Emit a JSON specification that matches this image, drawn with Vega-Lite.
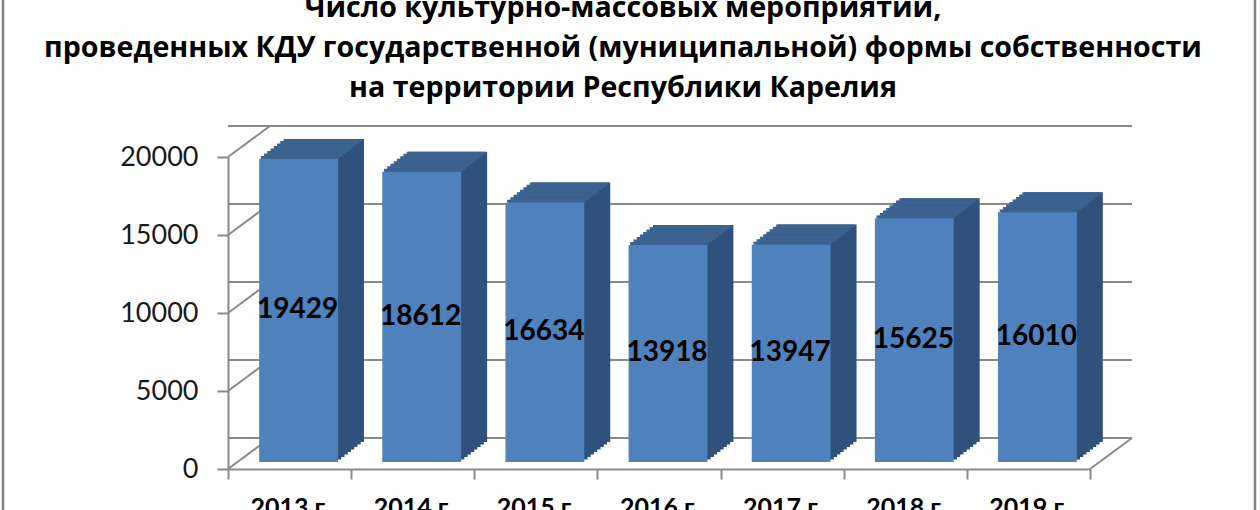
{
  "$schema": "https://vega.github.io/schema/vega-lite/v6.json",
  "width": 862,
  "height": 312,
  "autosize": {"type": "none"},
  "padding": {"left": 228, "top": 157, "right": 170, "bottom": 41},
  "background": "white",
  "config": {"view": {"stroke": null}, "font": "Lato"},
  "title": {
    "text": ["Число культурно-массовых мероприятий,", "проведенных КДУ государственной (муниципальной) формы собственности", "на территории Республики Карелия"],
    "font": "Open Sans",
    "fontSize": 28.6,
    "fontWeight": "bold",
    "color": "#000000",
    "lineHeight": 40,
    "anchor": "middle",
    "frame": "group",
    "baseline": "bottom",
    "offset": -146,
    "dx": -36
  },
  "datasets": {
    "bars": [
      {"year": "2013 г.", "value": 19429},
      {"year": "2014 г.", "value": 18612},
      {"year": "2015 г.", "value": 16634},
      {"year": "2016 г.", "value": 13918},
      {"year": "2017 г.", "value": 13947},
      {"year": "2018 г.", "value": 15625},
      {"year": "2019 г.", "value": 16010}
    ],
    "ticks": [{"v": 0}, {"v": 5000}, {"v": 10000}, {"v": 15000}, {"v": 20000}]
  },
  "resolve": {"scale": {"y": "independent"}},
  "layer": [
    {
      "layer": [
        {
          "data": {"name": "ticks"},
          "mark": {"type": "rule", "color": "#8a8a8a", "strokeWidth": 2, "xOffset": 42, "x2Offset": 42, "yOffset": -31},
          "encoding": {
            "y": {"field": "v", "type": "quantitative", "scale": {"domain": [0, 20000], "nice": false}}
          }
        },
        {
          "data": {"name": "ticks"},
          "mark": {"type": "rule", "color": "#8a8a8a", "strokeWidth": 2, "x2Offset": 42, "y2Offset": -31},
          "encoding": {
            "x": {"datum": "2013 г.", "bandPosition": 0, "type": "nominal"},
            "x2": {"datum": "2013 г.", "bandPosition": 0},
            "y": {"field": "v", "type": "quantitative"},
            "y2": {"field": "v"}
          }
        },
        {
          "data": {"name": "ticks"},
          "transform": [{"filter": "datum.v == 0"}],
          "mark": {"type": "rule", "color": "#8a8a8a", "strokeWidth": 2, "x2Offset": 42, "y2Offset": -31},
          "encoding": {
            "x": {"datum": "2019 г.", "bandPosition": 1, "type": "nominal"},
            "x2": {"datum": "2019 г.", "bandPosition": 1},
            "y": {"field": "v", "type": "quantitative"},
            "y2": {"field": "v"}
          }
        },
        {
          "data": {"name": "ticks"},
          "transform": [{"filter": "datum.v == 0"}],
          "mark": {"type": "rule", "color": "#7f7f7f", "strokeWidth": 2.5, "xOffset": -225, "yOffset": 60, "y2Offset": -170},
          "encoding": {
            "x": {"datum": "2013 г.", "bandPosition": 0, "type": "nominal"},
            "y": {"field": "v", "type": "quantitative"},
            "y2": {"datum": 20000}
          }
        },
        {
          "data": {"name": "ticks"},
          "transform": [{"filter": "datum.v == 0"}],
          "mark": {"type": "rule", "color": "#7f7f7f", "strokeWidth": 2.5, "xOffset": 165, "yOffset": 60, "y2Offset": -170},
          "encoding": {
            "x": {"datum": "2019 г.", "bandPosition": 1, "type": "nominal"},
            "y": {"field": "v", "type": "quantitative"},
            "y2": {"datum": 20000}
          }
        },
        {"data": {"name": "bars"}, "mark": {"type": "bar", "color": "#30517c", "width": {"band": 0.64}, "xOffset": 35, "x2Offset": 35, "yOffset": -27, "y2Offset": -27}, "encoding": {"x": {"field": "year", "type": "nominal"}, "y": {"field": "value", "type": "quantitative"}}},
        {"data": {"name": "bars"}, "mark": {"type": "bar", "color": "#30517c", "width": {"band": 0.64}, "xOffset": 31.75, "x2Offset": 31.75, "yOffset": -24.5, "y2Offset": -24.5}, "encoding": {"x": {"field": "year", "type": "nominal"}, "y": {"field": "value", "type": "quantitative"}}},
        {"data": {"name": "bars"}, "mark": {"type": "bar", "color": "#30517c", "width": {"band": 0.64}, "xOffset": 28.5, "x2Offset": 28.5, "yOffset": -22, "y2Offset": -22}, "encoding": {"x": {"field": "year", "type": "nominal"}, "y": {"field": "value", "type": "quantitative"}}},
        {"data": {"name": "bars"}, "mark": {"type": "bar", "color": "#30517c", "width": {"band": 0.64}, "xOffset": 25.25, "x2Offset": 25.25, "yOffset": -19.5, "y2Offset": -19.5}, "encoding": {"x": {"field": "year", "type": "nominal"}, "y": {"field": "value", "type": "quantitative"}}},
        {"data": {"name": "bars"}, "mark": {"type": "bar", "color": "#30517c", "width": {"band": 0.64}, "xOffset": 22, "x2Offset": 22, "yOffset": -17, "y2Offset": -17}, "encoding": {"x": {"field": "year", "type": "nominal"}, "y": {"field": "value", "type": "quantitative"}}},
        {"data": {"name": "bars"}, "mark": {"type": "bar", "color": "#30517c", "width": {"band": 0.64}, "xOffset": 18.75, "x2Offset": 18.75, "yOffset": -14.5, "y2Offset": -14.5}, "encoding": {"x": {"field": "year", "type": "nominal"}, "y": {"field": "value", "type": "quantitative"}}},
        {"data": {"name": "bars"}, "mark": {"type": "bar", "color": "#30517c", "width": {"band": 0.64}, "xOffset": 15.5, "x2Offset": 15.5, "yOffset": -12, "y2Offset": -12}, "encoding": {"x": {"field": "year", "type": "nominal"}, "y": {"field": "value", "type": "quantitative"}}},
        {"data": {"name": "bars"}, "mark": {"type": "bar", "color": "#30517c", "width": {"band": 0.64}, "xOffset": 12.25, "x2Offset": 12.25, "yOffset": -9.5, "y2Offset": -9.5}, "encoding": {"x": {"field": "year", "type": "nominal"}, "y": {"field": "value", "type": "quantitative"}}},
        {"data": {"name": "bars"}, "mark": {"type": "bar", "color": "#3c6290", "width": {"band": 0.64}, "xOffset": 10.6, "x2Offset": 10.6, "yOffset": -9.8, "y2Offset": -7}, "encoding": {"x": {"field": "year", "type": "nominal"}, "y": {"field": "value", "type": "quantitative"}, "y2": {"field": "value"}}},
        {"data": {"name": "bars"}, "mark": {"type": "bar", "color": "#3c6290", "width": {"band": 0.64}, "xOffset": 13.9, "x2Offset": 13.9, "yOffset": -12.3, "y2Offset": -9.5}, "encoding": {"x": {"field": "year", "type": "nominal"}, "y": {"field": "value", "type": "quantitative"}, "y2": {"field": "value"}}},
        {"data": {"name": "bars"}, "mark": {"type": "bar", "color": "#3c6290", "width": {"band": 0.64}, "xOffset": 17.1, "x2Offset": 17.1, "yOffset": -14.8, "y2Offset": -12}, "encoding": {"x": {"field": "year", "type": "nominal"}, "y": {"field": "value", "type": "quantitative"}, "y2": {"field": "value"}}},
        {"data": {"name": "bars"}, "mark": {"type": "bar", "color": "#3c6290", "width": {"band": 0.64}, "xOffset": 20.4, "x2Offset": 20.4, "yOffset": -17.3, "y2Offset": -14.5}, "encoding": {"x": {"field": "year", "type": "nominal"}, "y": {"field": "value", "type": "quantitative"}, "y2": {"field": "value"}}},
        {"data": {"name": "bars"}, "mark": {"type": "bar", "color": "#3c6290", "width": {"band": 0.64}, "xOffset": 23.6, "x2Offset": 23.6, "yOffset": -19.8, "y2Offset": -17}, "encoding": {"x": {"field": "year", "type": "nominal"}, "y": {"field": "value", "type": "quantitative"}, "y2": {"field": "value"}}},
        {"data": {"name": "bars"}, "mark": {"type": "bar", "color": "#3c6290", "width": {"band": 0.64}, "xOffset": 26.9, "x2Offset": 26.9, "yOffset": -22.3, "y2Offset": -19.5}, "encoding": {"x": {"field": "year", "type": "nominal"}, "y": {"field": "value", "type": "quantitative"}, "y2": {"field": "value"}}},
        {"data": {"name": "bars"}, "mark": {"type": "bar", "color": "#3c6290", "width": {"band": 0.64}, "xOffset": 30.1, "x2Offset": 30.1, "yOffset": -24.8, "y2Offset": -22}, "encoding": {"x": {"field": "year", "type": "nominal"}, "y": {"field": "value", "type": "quantitative"}, "y2": {"field": "value"}}},
        {"data": {"name": "bars"}, "mark": {"type": "bar", "color": "#3c6290", "width": {"band": 0.64}, "xOffset": 33.4, "x2Offset": 33.4, "yOffset": -27, "y2Offset": -24.5}, "encoding": {"x": {"field": "year", "type": "nominal"}, "y": {"field": "value", "type": "quantitative"}, "y2": {"field": "value"}}},
        {
          "data": {"name": "bars"},
          "mark": {"type": "bar", "color": "#4f81bd", "width": {"band": 0.64}, "xOffset": 9, "x2Offset": 9, "yOffset": -7, "y2Offset": -7},
          "encoding": {
            "x": {
              "field": "year", "type": "nominal", "sort": null, "title": null,
              "scale": {"paddingInner": 0, "paddingOuter": 0},
              "axis": {"labelAngle": 0, "labelAlign": "center", "labelFont": "Lato", "labelFontSize": 25, "labelFontWeight": "bold", "labelColor": "#000000", "labelPadding": 28, "tickSize": 10, "tickBand": "extent", "tickColor": "#8a8a8a", "tickWidth": 2, "domainColor": "#8a8a8a", "domainWidth": 2, "grid": false}
            },
            "y": {
              "field": "value", "type": "quantitative", "title": null,
              "scale": {"domain": [0, 20000], "nice": false},
              "axis": {"values": [0, 5000, 10000, 15000, 20000], "format": "d", "labelFont": "Lato", "labelFontSize": 27, "labelColor": "#1a1a1a", "labelPadding": 19, "tickSize": 11, "tickColor": "#8a8a8a", "tickWidth": 2, "domainColor": "#8a8a8a", "domainWidth": 2, "grid": false}
            }
          }
        }
      ]
    },
    {
      "data": {"name": "bars"},
      "mark": {"type": "text", "font": "Lato", "fontSize": 28, "fontWeight": "bold", "color": "#000000", "baseline": "middle", "align": "center", "dx": 8, "dy": -7},
      "encoding": {
        "x": {"field": "year", "type": "nominal"},
        "y": {"field": "value", "type": "quantitative", "scale": {"domain": [0, 40000], "nice": false}, "axis": null},
        "text": {"field": "value", "type": "quantitative", "format": "d"}
      }
    }
  ]
}
